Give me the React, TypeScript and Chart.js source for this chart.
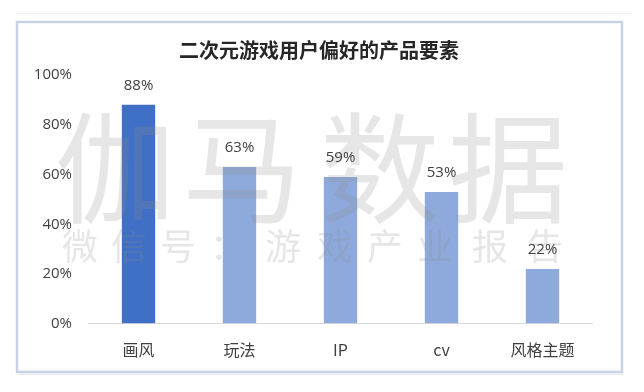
import React, { useEffect, useRef } from "react";
import { Chart, registerables } from "chart.js";

Chart.register(...registerables);

const categories = ["画风", "玩法", "IP", "cv", "风格主题"];
const values = [88, 63, 59, 53, 22];
const barColors = ["#3f6fc6", "#8eaadc", "#8eaadc", "#8eaadc", "#8eaadc"];
const titleText = "二次元游戏用户偏好的产品要素";
const watermarkMain = ["伽", "马", "数", "据"];
const watermarkSub = ["微", "信", "号", "：", "游", "戏", "产", "业", "报", "告"];

const framePlugin = {
  id: "frame",
  beforeDraw(chart: any) {
    const ctx = chart.ctx;
    ctx.save();
    ctx.fillStyle = "#ffffff";
    ctx.fillRect(0, 0, chart.width, chart.height);
    ctx.strokeStyle = "#f0f0f0";
    ctx.lineWidth = 1;
    ctx.beginPath();
    ctx.moveTo(16, 13.5);
    ctx.lineTo(632, 13.5);
    ctx.stroke();
    ctx.strokeStyle = "#c6d1e3";
    ctx.lineWidth = 2.5;
    ctx.strokeRect(17, 22, 605, 350);
    ctx.strokeStyle = "#e4e8ef";
    ctx.lineWidth = 1;
    ctx.beginPath();
    ctx.moveTo(18, 374.5);
    ctx.lineTo(623, 374.5);
    ctx.stroke();
    ctx.fillStyle = "#262626";
    ctx.font = "bold 20px 'Noto Sans CJK SC'";
    ctx.textAlign = "center";
    ctx.textBaseline = "middle";
    ctx.fillText(titleText, 319, 50);
    ctx.restore();
  },
};

const watermarkPlugin = {
  id: "watermark",
  afterDatasetsDraw(chart: any) {
    const ctx = chart.ctx;
    ctx.save();
    ctx.fillStyle = "rgba(140,140,140,0.22)";
    ctx.textAlign = "center";
    ctx.textBaseline = "middle";
    ctx.font = "120px 'Noto Sans CJK SC'";
    const mainX = [115, 242, 380, 508];
    watermarkMain.forEach((ch, i) => ctx.fillText(ch, mainX[i], 168));
    ctx.font = "36px 'Noto Sans CJK SC'";
    const subX = [80, 129, 178, 228, 283, 335, 385, 435, 490, 545];
    watermarkSub.forEach((ch, i) => ctx.fillText(ch, subX[i], 246));
    ctx.restore();
  },
};

const valueLabelPlugin = {
  id: "valueLabels",
  afterDatasetsDraw(chart: any) {
    const ctx = chart.ctx;
    const meta = chart.getDatasetMeta(0);
    ctx.save();
    ctx.fillStyle = "#404040";
    ctx.font = "15px 'Open Sans'";
    ctx.textAlign = "center";
    ctx.textBaseline = "middle";
    meta.data.forEach((bar: any, i: number) => {
      ctx.fillText(values[i] + "%", bar.x, bar.y - 19);
    });
    ctx.restore();
  },
};

export default function App() {
  const ref = useRef<HTMLCanvasElement>(null);
  useEffect(() => {
    document.body.style.margin = "0";
    const chart = new Chart(ref.current!, {
      type: "bar",
      data: {
        labels: categories,
        datasets: [
          {
            data: values,
            backgroundColor: barColors,
            barPercentage: 0.33,
            categoryPercentage: 1,
          },
        ],
      },
      options: {
        animation: false,
        responsive: false,
        layout: { padding: { top: 75, left: 0, right: 51, bottom: 15 } },
        plugins: {
          legend: { display: false },
          tooltip: { enabled: false },
          title: { display: false },
        },
        scales: {
          x: {
            grid: { display: false, drawTicks: false },
            border: { display: false },
            ticks: {
              color: "#404040",
              font: { size: 16, family: "'Noto Sans CJK SC'" },
              padding: 17,
            },
          },
          y: {
            min: 0,
            max: 100,
            afterFit(axis: any) {
              axis.width = 88;
            },
            grid: {
              drawTicks: false,
              color: (c: any) => (c.tick && c.tick.value === 0 ? "#d9d9d9" : "transparent"),
            },
            border: { display: false },
            ticks: {
              stepSize: 20,
              padding: 16,
              color: "#404040",
              font: { size: 15, family: "'Open Sans'" },
              callback: (v: any) => v + "%",
            },
          },
        },
      },
      plugins: [framePlugin, watermarkPlugin, valueLabelPlugin],
    });
    return () => chart.destroy();
  }, []);
  return <canvas ref={ref} width={644} height={392} style={{ display: "block" }} />;
}
